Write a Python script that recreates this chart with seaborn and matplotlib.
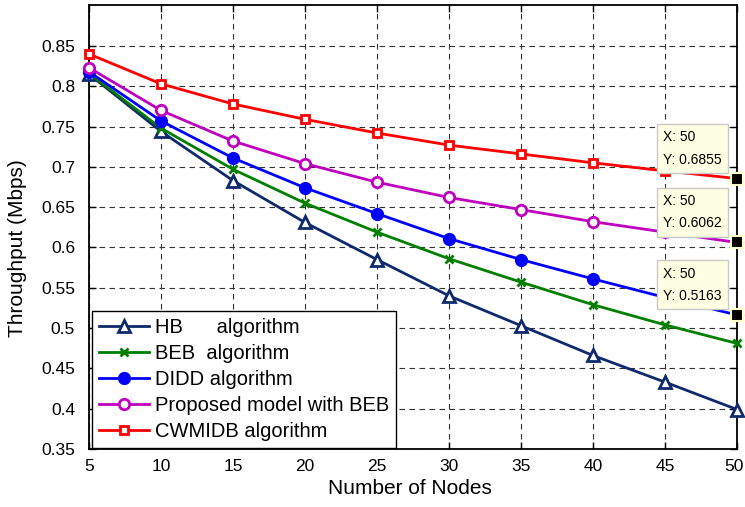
import matplotlib
matplotlib.use("Agg")
import matplotlib.pyplot as plt
import matplotlib.transforms as mtransforms
import seaborn as sns
import pandas as pd

nodes = [5, 10, 15, 20, 25, 30, 35, 40, 45, 50]
hb = [0.815, 0.744, 0.683, 0.631, 0.585, 0.540, 0.503, 0.466, 0.433, 0.399]
beb = [0.816, 0.748, 0.697, 0.655, 0.619, 0.586, 0.557, 0.529, 0.504, 0.481]
didd = [0.818, 0.757, 0.711, 0.674, 0.642, 0.611, 0.585, 0.561, 0.538, 0.5163]
proposed = [0.823, 0.770, 0.732, 0.704, 0.681, 0.662, 0.647, 0.632, 0.619, 0.6062]
cwmidb = [0.840, 0.803, 0.778, 0.759, 0.742, 0.727, 0.716, 0.705, 0.695, 0.6855]

labels = ["HB      algorithm", "BEB  algorithm", "DIDD algorithm",
          "Proposed model with BEB", "CWMIDB algorithm"]
series = [hb, beb, didd, proposed, cwmidb]
colors = ["#0f2a6c", "#007f00", "#0000ff", "#bf00bf", "#ff0000"]
markers = ["^", "x", "o", "o", "s"]
msizes = [9, 6, 7.5, 7.5, 6]
mfaces = ["white", "#007f00", "#0000ff", "white", "white"]

datatip_vals = [0.6855, 0.6062, 0.5163]
xticks = [5, 10, 15, 20, 25, 30, 35, 40, 45, 50]
yticks = [0.35, 0.4, 0.45, 0.5, 0.55, 0.6, 0.65, 0.7, 0.75, 0.8, 0.85]

plt.rcParams['font.family'] = ['Liberation Sans', 'DejaVu Sans']

fig = plt.figure(figsize=(7.45, 5.07), dpi=100)
ax = fig.add_axes([89 / 745, 58 / 507, 648 / 745, 444 / 507])

for lab, vals, c, m, ms, mf in zip(labels, series, colors, markers, msizes, mfaces):
    df = pd.DataFrame({"Nodes": nodes, "Throughput": vals})
    sns.lineplot(data=df, x="Nodes", y="Throughput", ax=ax, color=c, lw=2,
                 marker=m, markersize=ms, markerfacecolor=mf,
                 markeredgecolor=c, markeredgewidth=2,
                 label=lab, clip_on=False, zorder=3)

ax.set_xlim(5, 50)
ax.set_ylim(0.35, 0.9008)
ax.set_xticks(xticks)
ax.set_xticklabels([f"{v:g}" for v in xticks])
ax.set_yticks(yticks)
ax.set_yticklabels([f"{v:g}" for v in yticks])
ax.tick_params(direction="in", top=True, right=True, length=5, width=1,
               labelsize=12.5, colors="black")
ax.tick_params(axis="y", pad=10)
ax.tick_params(axis="x", pad=7)
ax.grid(True, color="0.2", linestyle=(0, (5, 4)), linewidth=0.8)
ax.set_axisbelow(True)
for sp in ax.spines.values():
    sp.set_linewidth(1.3)
    sp.set_color("black")

# nudge the last x tick label slightly so it stays inside the canvas
last = ax.get_xticklabels()[-1]
last.set_transform(last.get_transform() +
                   mtransforms.ScaledTranslation(-3 / 100, 0, fig.dpi_scale_trans))

ax.set_xlabel("Number of Nodes", fontsize=15)
ax.set_ylabel("Throughput (Mbps)", fontsize=15)
ax.xaxis.set_label_coords(0.495, -0.068)
ax.yaxis.set_label_coords(-0.0957, 0.453)

leg = ax.legend(loc="lower left", bbox_to_anchor=(0.004, 0.002), borderaxespad=0,
                fontsize=14.5, frameon=True, fancybox=False, framealpha=1,
                edgecolor="black", handlelength=2.5, handletextpad=0.3,
                labelspacing=0.35, borderpad=0.35)
leg.get_frame().set_linewidth(1.0)
leg.set_zorder(5)

for v in datatip_vals:
    ax.plot([50], [v], marker="s", markersize=8, color="black",
            markeredgecolor="#ffffc8", markeredgewidth=1.5, clip_on=False, zorder=6)
    ax.annotate(f"X: 50\nY: {v:.4f}", xy=(50, v), xytext=(-74, 12),
                textcoords="offset pixels", ha="left", va="bottom", fontsize=10,
                linespacing=1.75,
                bbox=dict(boxstyle="square,pad=0.45", facecolor="#ffffe4",
                          edgecolor="#c8c8c8", linewidth=1), zorder=7)

fig.savefig("out.png", dpi=100)
